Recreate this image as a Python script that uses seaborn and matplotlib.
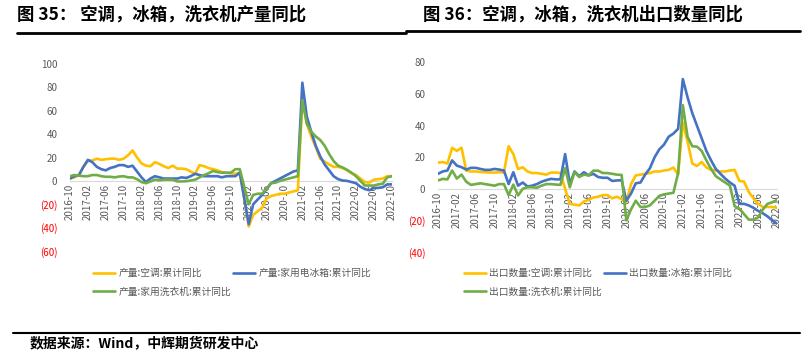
import numpy as np
import pandas as pd
import seaborn as sns
import matplotlib.pyplot as plt
from matplotlib.lines import Line2D

# month labels 2016-10 .. 2022-10
months = pd.period_range("2016-10", "2022-10", freq="M").strftime("%Y-%m").tolist()

# 图35: production, cumulative YoY (%)
prod_ac = [2, 3, 5, 12, 17, 17.5, 19, 18, 18.5, 19, 19, 18, 19, 22, 26, 20, 15, 13, 12.5, 16,
           14.5, 12.5, 11, 13, 10.5, 10.5, 10, 8, 6, 13.5, 12.5, 11, 10, 9, 7.5, 7, 6.5, 6, 7, -15,
           -39, -29, -26, -23, -15, -13, -12, -11, -11, -10, -9, -8, 71, 49, 38, 29, 19, 16.5, 14, 12,
           12, 11, 9, 6.5, 5, 2, -1, -1.5, 1, 1.5, 2, 4, 4]
prod_fridge = [2, 4, 5, 12, 18, 16, 12, 10, 9, 11, 12, 13.5, 13.5, 12, 13, 8, 3, -1, 2, 4,
               3, 2, 2, 2, 2, 3, 2.5, 4, 6, 5, 4, 4, 4, 4, 3, 4, 4, 4, 7, -15,
               -37, -20, -16, -12, -7, -2, 0, 2, 4, 6, 8, 9, 84, 55, 42, 30, 21, 14, 9, 4,
               1.5, 0.3, 0, -1, -2, -5, -7, -8, -6, -6, -5.5, -3, -3]
prod_washer = [4, 5, 4.5, 4, 4, 5, 5, 4, 3.5, 3.5, 3, 3.7, 4, 3, 3, 1.5, -1, -2, -0.5, 1,
               0.5, 1, 1, 1, -0.5, -0.5, -0.3, 0.3, 1, 3, 5, 6.5, 8.5, 7.5, 7, 7, 7, 10, 10, -5,
               -20, -12, -11, -11, -7, -2, -1.5, 0, 1, 2, 3, 4, 69, 49, 42, 38, 35, 30, 23, 17,
               13, 11.5, 9.5, 7, 4, 0, -4, -4, -4, -3, -2.5, 3, 4]

# 图36: export quantity, cumulative YoY (%)
exp_ac = [16.6, 17, 16, 26, 24, 26, 11.5, 11, 11, 10.7, 10.5, 10.3, 10.3, 10.5, 10.3, 27, 22, 12.5, 13.7, 11,
          10, 10, 9.5, 9, 10.3, 10.3, 10, 0, -9.5, -10, -10.5, -8, -7, -5.5, -5, -4, -4, -6, -5, -6.5,
          -8.5, 3, 8.5, 9, 9.5, 10, 11, 11, 11.6, 12, 13.5, 9, 42, 30, 16, 14.5, 17, 13.5, 12, 11.6,
          11, 11, 11.6, 12, 5, 4.6, -2, -6, -9.5, -11.5, -11.5, -11.5, -12]
exp_fridge = [9.5, 11, 11.6, 18, 14.7, 13.7, 12.2, 13.3, 13.3, 12.6, 12, 12, 12.6, 12.2, 11.6, 3, 10.5, 2, 4, 1.5,
              2, 3, 4.5, 5.5, 6.3, 6, 6, 22, 3, 11, 8, 10.5, 8.5, 9.5, 7.5, 7, 7, 5, 5.3, 5.5,
              -7.5, -3, 3.5, 4, 9, 13, 20, 25, 28, 33, 35, 38, 69.5, 58, 48, 40, 32, 24, 18, 12.6,
              9.5, 6.5, 4, 2, -9.5, -9.5, -10.5, -12, -14, -15.5, -17.5, -20, -22]
exp_washer = [5.3, 6.3, 6, 11.6, 6.5, 9, 4.5, 2.5, 3, 3.5, 3, 2.5, 2, 3, 3, -4, 2.7, -4.2, 0, 1,
              1, 0.7, 2, 3, 3, 2.7, 2.5, 13, 1, 10.5, 7.5, 9, 8.5, 11.5, 11.5, 10, 10, 9.5, 9, 8.8,
              -20, -13, -7.5, -11.5, -11.5, -10.5, -7.5, -4.5, -3.5, -3, -2.5, 10, 53, 33, 27, 26.7, 24, 18, 12.6, 8,
              6, 4, 2, -11, -12.5, -16, -19.5, -19.5, -18, -13, -9.5, -8.5, -7]

left_labels = ["产量:空调:累计同比", "产量:家用电冰箱:累计同比", "产量:家用洗衣机:累计同比"]
right_labels = ["出口数量:空调:累计同比", "出口数量:冰箱:累计同比", "出口数量:洗衣机:累计同比"]
colors = ["#FFC000", "#4472C4", "#70AD47"]

sns.set_theme(style="white")
plt.rcParams["font.family"] = ["Noto Sans CJK SC", "DejaVu Sans"]

fig = plt.figure(figsize=(8.12, 3.59), dpi=100)
ax1 = fig.add_axes([70 / 812, 1 - 251 / 359, 321.7 / 812, 187 / 359])
ax2 = fig.add_axes([438 / 812, 1 - 252 / 359, 339 / 812, 189.5 / 359])


def draw(ax, series, labels, ylo, yhi, legend_x):
    idx = np.arange(len(months))
    df = pd.concat([pd.DataFrame({"idx": idx, "val": s, "series": lab})
                    for s, lab in zip(series, labels)])
    sns.lineplot(data=df, x="idx", y="val", hue="series", hue_order=labels,
                 palette=dict(zip(labels, colors)), linewidth=1.9, ax=ax,
                 zorder=3, legend=True)
    ax.set_xlim(0, 72)
    ax.set_ylim(ylo, yhi)
    ax.set_xlabel("")
    ax.set_ylabel("")
    for s in ["top", "right", "left"]:
        ax.spines[s].set_visible(False)
    ax.spines["bottom"].set_position(("data", 0))
    ax.spines["bottom"].set_color("#D9D9D9")
    ax.spines["bottom"].set_linewidth(0.8)
    ax.set_xticks(idx[::4])
    ax.set_xticklabels(months[::4], rotation=90, fontsize=7, color="#595959")
    ax.tick_params(axis="x", length=0, pad=2)
    yt = np.arange(ylo, yhi + 1, 20)
    ax.set_yticks(yt)
    ax.set_yticklabels([f"({abs(v)})" if v < 0 else str(v) for v in yt], fontsize=7)
    for v, t in zip(yt, ax.get_yticklabels()):
        t.set_color("#FF0000" if v < 0 else "#595959")
    ax.tick_params(axis="y", length=0, pad=9)
    ax.grid(False)
    h, l = ax.get_legend_handles_labels()
    # column-major fill: put series 1 & 3 in first column, series 2 in second
    order = [0, 2, 1]
    ax.legend([h[i] for i in order], [l[i] for i in order], ncol=2, frameon=False,
              fontsize=7, loc="upper left",
              bbox_to_anchor=(legend_x / 812, 1 - 268 / 359), bbox_transform=fig.transFigure,
              handlelength=2.3, handletextpad=0.3, columnspacing=0.2, labelspacing=0.9,
              borderpad=0, borderaxespad=0, labelcolor="#595959")


draw(ax1, [prod_ac, prod_fridge, prod_washer], left_labels, -60, 100, 93)
draw(ax2, [exp_ac, exp_fridge, exp_washer], right_labels, -40, 80, 464)

# headers
fig.text(17 / 812, 1 - 15 / 359, "图 35： 空调，冰箱，洗衣机产量同比", fontsize=12.5,
         fontweight="bold", va="center", ha="left", color="black")
fig.text(423 / 812, 1 - 15 / 359, "图 36：空调，冰箱，洗衣机出口数量同比", fontsize=12.5,
         fontweight="bold", va="center", ha="left", color="black")
fig.add_artist(Line2D([17 / 812, 406 / 812], [1 - 32.5 / 359] * 2, color="black", lw=2))
fig.add_artist(Line2D([406 / 812, 800 / 812], [1 - 30.5 / 359] * 2, color="black", lw=2))
fig.add_artist(Line2D([13 / 812, 800 / 812], [1 - 332.5 / 359] * 2, color="black", lw=1.5))
fig.text(30 / 812, 1 - 343 / 359, "数据来源：Wind，中辉期货研发中心", fontsize=10,
         fontweight="bold", va="center", ha="left", color="black")

fig.savefig("out.png", dpi=100)
